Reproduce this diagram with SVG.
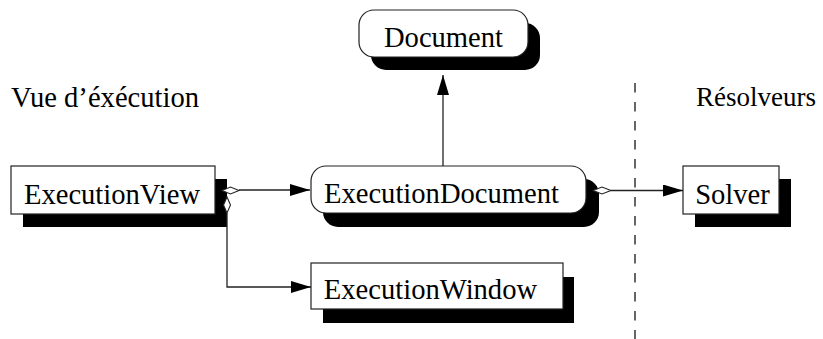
<svg xmlns="http://www.w3.org/2000/svg" width="823" height="339" viewBox="0 0 823 339">
  <style>
    .box { fill: #ffffff; stroke: #222222; stroke-width: 1.2; }
    .shadow { fill: #000000; stroke: none; }
    .lbl { font-family: 'Liberation Serif', 'Times New Roman', serif; font-size: 28.6px; fill: #000000; }
    .edge { fill: none; stroke: #222222; stroke-width: 1.3; }
    .diamond { fill: #ffffff; stroke: #222222; stroke-width: 1.1; }
    .sep { fill: none; stroke: #666666; stroke-width: 2; stroke-dasharray: 9.5 9.5; }
  </style>
  <defs>
    <marker id="arrow" viewBox="0 0 20 12" refX="20" refY="6" markerWidth="20" markerHeight="12" markerUnits="userSpaceOnUse" orient="auto">
      <path d="M0,0 L20,6 L0,12 Z" fill="#000000"/>
    </marker>
  </defs>

  <rect width="823" height="339" fill="#ffffff"/>

  <!-- section titles and separator -->
  <text class="lbl" x="11" y="107">Vue d’éxécution</text>
  <text class="lbl" x="696" y="106" style="font-size:27px">Résolveurs</text>
  <line class="sep" x1="635" y1="83" x2="635" y2="339"/>

  <!-- nodes -->
  <g id="document">
    <rect class="shadow" x="371" y="23" width="169" height="47" rx="15" ry="15"/>
    <rect class="box" x="359" y="10" width="169" height="47" rx="15" ry="15"/>
    <text class="lbl" x="443.5" y="47" text-anchor="middle">Document</text>
  </g>

  <g id="executionView">
    <rect class="shadow" x="23" y="179" width="204" height="48"/>
    <rect class="box" x="11" y="166" width="204" height="48"/>
    <text class="lbl" x="112" y="203.5" text-anchor="middle">ExecutionView</text>
  </g>

  <g id="executionDocument">
    <rect class="shadow" x="323" y="179" width="276" height="48" rx="15" ry="15"/>
    <rect class="box" x="311" y="166" width="275" height="47" rx="15" ry="15"/>
    <text class="lbl" x="441.5" y="202.5" text-anchor="middle">ExecutionDocument</text>
  </g>

  <g id="solver">
    <rect class="shadow" x="695" y="179" width="96" height="48"/>
    <rect class="box" x="683" y="166" width="96" height="48"/>
    <text class="lbl" x="732.5" y="203.5" text-anchor="middle">Solver</text>
  </g>

  <g id="executionWindow">
    <rect class="shadow" x="323" y="277" width="251" height="46"/>
    <rect class="box" x="311" y="263" width="252" height="46"/>
    <text class="lbl" x="430.5" y="298.5" text-anchor="middle">ExecutionWindow</text>
  </g>

  <!-- connectors -->
  <g id="connectors">
    <!-- generalisation: ExecutionDocument to Document -->
    <line class="edge" x1="443" y1="166" x2="443" y2="75" marker-end="url(#arrow)"/>
    <!-- aggregation: ExecutionView to ExecutionDocument -->
    <line class="edge" x1="239" y1="190" x2="310" y2="190" marker-end="url(#arrow)"/>
    <path class="diamond" d="M222,190.5 L230.5,187 L239,190.5 L230.5,194 Z"/>
    <!-- aggregation: ExecutionView to ExecutionWindow -->
    <polyline class="edge" points="227,213 227,287 311,287" marker-end="url(#arrow)"/>
    <path class="diamond" d="M227,197 L230.5,205 L227,213 L223.5,205 Z"/>
    <!-- aggregation: ExecutionDocument to Solver -->
    <line class="edge" x1="611" y1="190.5" x2="683" y2="190.5" marker-end="url(#arrow)"/>
    <path class="diamond" d="M593,190.5 L602,187 L611,190.5 L602,194 Z"/>
  </g>
</svg>
